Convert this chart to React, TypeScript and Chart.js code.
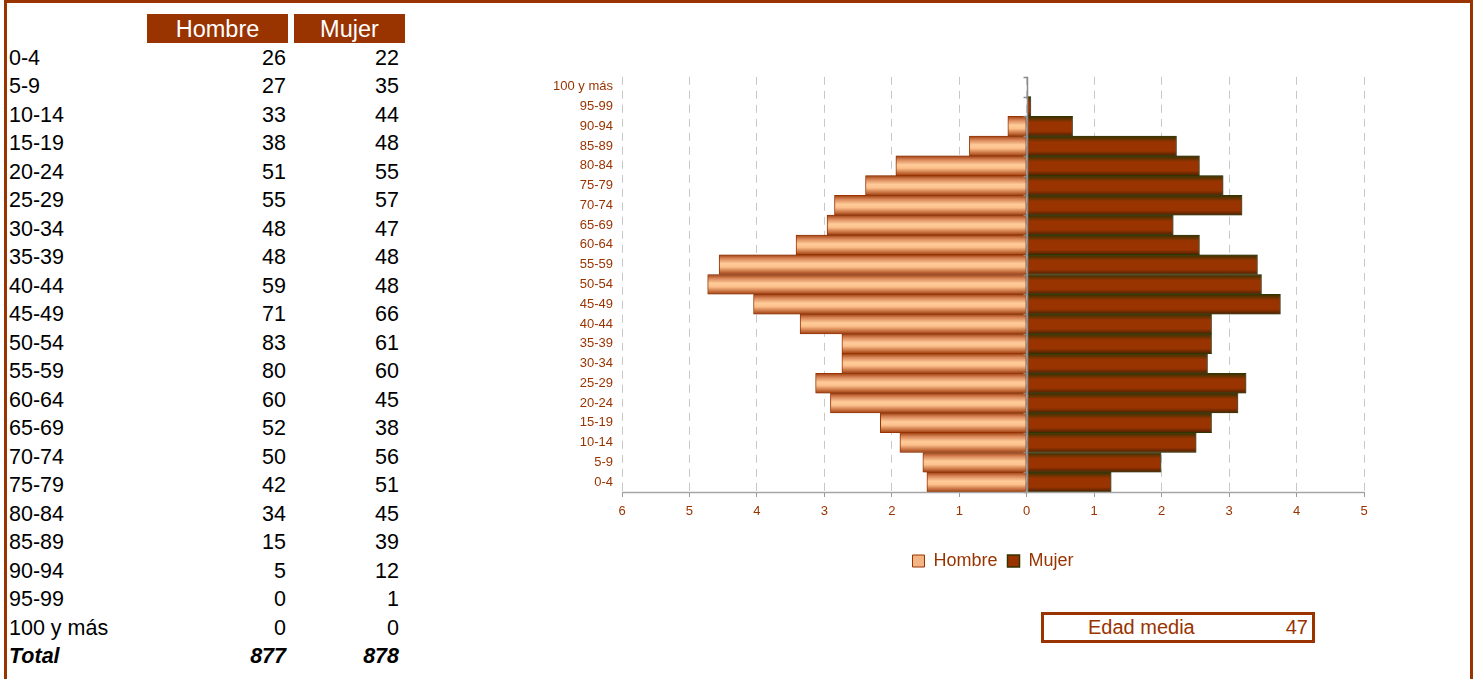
import React, { useEffect, useRef } from 'react';
import { Chart, registerables } from 'chart.js';

Chart.register(...registerables);

// ---- data ----
const ageGroups = ['0-4', '5-9', '10-14', '15-19', '20-24', '25-29', '30-34', '35-39', '40-44', '45-49', '50-54', '55-59', '60-64', '65-69', '70-74', '75-79', '80-84', '85-89', '90-94', '95-99', '100 y más'];
const hombreCounts = [26, 27, 33, 38, 51, 55, 48, 48, 59, 71, 83, 80, 60, 52, 50, 42, 34, 15, 5, 0, 0];
const mujerCounts = [22, 35, 44, 48, 55, 57, 47, 48, 48, 66, 61, 60, 45, 38, 56, 51, 45, 39, 12, 1, 0];
const hombreTotal = 877;
const mujerTotal = 878;
// percentage of total population, as drawn by the pyramid
const hombrePct = [1.48, 1.54, 1.88, 2.17, 2.91, 3.13, 2.74, 2.74, 3.36, 4.05, 4.73, 4.56, 3.42, 2.96, 2.85, 2.39, 1.94, 0.85, 0.28, 0, 0];
const mujerPct = [1.25, 1.99, 2.51, 2.74, 3.13, 3.25, 2.68, 2.74, 2.74, 3.76, 3.48, 3.42, 2.56, 2.17, 3.19, 2.91, 2.56, 2.22, 0.68, 0.06, 0];
const xMin = -6;
const xMax = 5;
const seriesNames = ['Hombre', 'Mujer'];
const edadMedia = 47;

const BROWN = '#993300';
const OLIVE = '#333300';
const FONT = '"Liberation Sans", Arial, sans-serif';

function barGradient(ctx: any, stops: [number, string][], fallback: string) {
  const chart = ctx.chart;
  const ys = chart.scales && chart.scales.y;
  if (!ys || ctx.dataIndex === undefined || !isFinite(ys.top)) return fallback;
  const yc = ys.getPixelForValue(ctx.dataIndex);
  const h = (ys.bottom - ys.top) / ageGroups.length;
  if (!isFinite(yc) || !isFinite(h) || h <= 0) return fallback;
  const g = chart.ctx.createLinearGradient(0, yc - h / 2, 0, yc + h / 2);
  stops.forEach(([o, c]) => g.addColorStop(o, c));
  return g;
}

const zeroLinePlugin = {
  id: 'zeroLine',
  afterDatasetsDraw(chart: any) {
    const { ctx, chartArea } = chart;
    const xs = chart.scales.x;
    const x0 = Math.round(xs.getPixelForValue(0)) + 0.5;
    const n = ageGroups.length;
    const h = (chartArea.bottom - chartArea.top) / n;
    ctx.save();
    ctx.strokeStyle = '#8c8c8c';
    ctx.lineWidth = 1.5;
    ctx.beginPath();
    ctx.moveTo(x0, chartArea.top);
    ctx.lineTo(x0, chartArea.bottom);
    for (let i = 0; i <= n; i++) {
      const y = Math.round(chartArea.top + i * h) + 0.5;
      ctx.moveTo(x0 - 4, y);
      ctx.lineTo(x0, y);
    }
    ctx.stroke();
    ctx.restore();
  },
};

const shadowPlugin = {
  id: 'barShadow',
  beforeDatasetsDraw(chart: any) {
    const ctx = chart.ctx;
    ctx.save();
    ctx.shadowColor = 'rgba(120,120,120,0.45)';
    ctx.shadowOffsetX = 1.5;
    ctx.shadowOffsetY = 0;
    ctx.shadowBlur = 0;
  },
  afterDatasetsDraw(chart: any) {
    chart.ctx.restore();
  },
};

// solid bottom axis line (grid lines are dashed)
const axisLinePlugin = {
  id: 'axisLine',
  afterDraw(chart: any) {
    const { ctx, chartArea } = chart;
    ctx.save();
    ctx.strokeStyle = '#a6a6a6';
    ctx.lineWidth = 1.5;
    ctx.setLineDash([]);
    ctx.beginPath();
    ctx.moveTo(chartArea.left, chartArea.bottom + 0.5);
    ctx.lineTo(chartArea.right, chartArea.bottom + 0.5);
    ctx.stroke();
    ctx.restore();
  },
};

// centre the legend under the plot area and place it below the axis
const legendPlacePlugin = {
  id: 'legendPlace',
  afterLayout(chart: any) {
    const lg = chart.legend;
    if (!lg) return;
    const ca = chart.chartArea;
    const hgt = lg.bottom - lg.top;
    lg.left = ca.left;
    lg.right = ca.right;
    lg.top = ca.bottom + 50;
    lg.bottom = lg.top + hgt;
  },
};

function PyramidChart() {
  const ref = useRef<HTMLCanvasElement>(null);
  useEffect(() => {
    if (!ref.current) return;
    const chart = new Chart(ref.current, {
      type: 'bar',
      data: {
        labels: ageGroups,
        datasets: [
          {
            label: seriesNames[0],
            data: hombrePct.map((v) => -v),
            backgroundColor: (c: any) =>
              barGradient(c, [[0, '#a0400f'], [0.2, '#d9875a'], [0.45, '#ffcc99'], [0.62, '#fcc08c'], [0.9, '#bb6030'], [1, '#a0400f']], '#f0b080'),
            borderColor: BROWN,
            borderWidth: 1,
            borderSkipped: false,
            categoryPercentage: 1,
            barPercentage: 1,
            grouped: false,
          },
          {
            label: seriesNames[1],
            data: mujerPct,
            backgroundColor: (c: any) =>
              barGradient(c, [[0, '#333300'], [0.3, '#993300'], [0.75, '#993300'], [1, '#4a2200']], BROWN),
            borderColor: OLIVE,
            borderWidth: 1,
            borderSkipped: false,
            categoryPercentage: 1,
            barPercentage: 1,
            grouped: false,
          },
        ],
      },
      options: {
        indexAxis: 'y',
        animation: false,
        responsive: false,
        maintainAspectRatio: false,
        layout: { padding: { top: 15, right: 16, bottom: 20, left: 0 } },
        scales: {
          x: {
            type: 'linear',
            min: xMin,
            max: xMax,
            ticks: {
              stepSize: 1,
              color: BROWN,
              font: { family: FONT, size: 13 },
              padding: 7,
              maxRotation: 0,
              callback: (v: any) => String(Math.abs(Number(v))),
            },
            grid: {
              color: '#c8c8c8',
              lineWidth: 1,
              drawTicks: true,
              tickLength: 5,
              tickColor: '#9a9a9a',
              tickBorderDash: [],
            } as any,
            border: { display: false, dash: [8, 6] } as any,
            afterFit: (s: any) => {
              s.height = 40;
            },
          },
          y: {
            type: 'category',
            reverse: true,
            ticks: {
              color: BROWN,
              font: { family: FONT, size: 13 },
              padding: 9,
              autoSkip: false,
            },
            grid: { display: false, drawTicks: false },
            border: { display: false },
            afterFit: (s: any) => {
              s.width = 82;
            },
          },
        },
        plugins: {
          legend: {
            position: 'bottom',
            labels: {
              color: BROWN,
              font: { family: FONT, size: 18 },
              boxWidth: 12,
              boxHeight: 12,
              padding: 10,
              generateLabels: () => [
                { text: seriesNames[0], fillStyle: '#f2b583', strokeStyle: BROWN, lineWidth: 1, datasetIndex: 0, fontColor: BROWN, hidden: false },
                { text: seriesNames[1], fillStyle: BROWN, strokeStyle: OLIVE, lineWidth: 1.5, datasetIndex: 1, fontColor: BROWN, hidden: false },
              ],
            },
          },
          tooltip: { enabled: false },
        },
      },
      plugins: [shadowPlugin, zeroLinePlugin, axisLinePlugin, legendPlacePlugin],
    } as any);
    return () => chart.destroy();
  }, []);
  return <canvas ref={ref} width={840} height={530} style={{ position: 'absolute', left: 540, top: 60, width: 840, height: 530 }} />;
}

const ROW_TOP = 43.5;
const ROW_H = 28.5;

function DataTable() {
  const cellStyle: React.CSSProperties = {
    position: 'absolute',
    height: ROW_H,
    lineHeight: `${ROW_H}px`,
    fontSize: 21.5,
    fontFamily: FONT,
    color: '#000',
    whiteSpace: 'nowrap',
  };
  const rows = ageGroups.map((g, i) => {
    const top = ROW_TOP + i * ROW_H;
    return (
      <React.Fragment key={g}>
        <div style={{ ...cellStyle, top, left: 9 }}>{g}</div>
        <div style={{ ...cellStyle, top, left: 150, width: 136, textAlign: 'right' }}>{hombreCounts[i]}</div>
        <div style={{ ...cellStyle, top, left: 300, width: 99, textAlign: 'right' }}>{mujerCounts[i]}</div>
      </React.Fragment>
    );
  });
  const totalTop = ROW_TOP + ageGroups.length * ROW_H;
  const bold: React.CSSProperties = { fontWeight: 'bold', fontStyle: 'italic' };
  const head: React.CSSProperties = {
    position: 'absolute',
    top: 14,
    height: 29,
    lineHeight: '30px',
    background: BROWN,
    color: '#fff',
    fontSize: 23.5,
    fontFamily: FONT,
    textAlign: 'center',
  };
  return (
    <>
      <div style={{ ...head, left: 147, width: 141 }}>{seriesNames[0]}</div>
      <div style={{ ...head, left: 294, width: 111 }}>{seriesNames[1]}</div>
      {rows}
      <div style={{ ...cellStyle, ...bold, top: totalTop, left: 9 }}>Total</div>
      <div style={{ ...cellStyle, ...bold, top: totalTop, left: 150, width: 136, textAlign: 'right' }}>{hombreTotal}</div>
      <div style={{ ...cellStyle, ...bold, top: totalTop, left: 300, width: 99, textAlign: 'right' }}>{mujerTotal}</div>
    </>
  );
}

export default function App() {
  return (
    <div style={{ position: 'absolute', left: 0, top: 0, width: 1477, height: 679, overflow: 'hidden', background: '#fff' }}>
      <div
        style={{
          position: 'absolute',
          left: 4,
          top: 0,
          width: 1469,
          height: 720,
          border: `3px solid ${BROWN}`,
          boxSizing: 'border-box',
        }}
      />
      <DataTable />
      <PyramidChart />
      <div
        style={{
          position: 'absolute',
          left: 1041,
          top: 612,
          width: 274,
          height: 31,
          border: `3px solid ${BROWN}`,
          boxSizing: 'border-box',
          fontFamily: FONT,
          fontSize: 20,
          color: BROWN,
          lineHeight: '25px',
        }}
      >
        <span style={{ position: 'absolute', left: 44, top: 0 }}>Edad media</span>
        <span style={{ position: 'absolute', right: 4, top: 0 }}>{edadMedia}</span>
      </div>
    </div>
  );
}
